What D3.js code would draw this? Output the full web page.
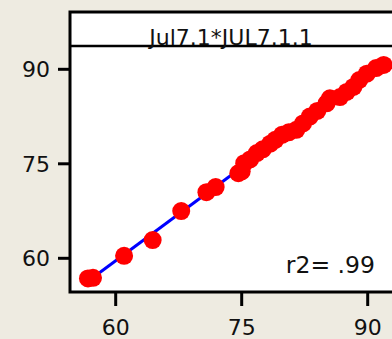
<!DOCTYPE html>
<html>
<head>
<meta charset="utf-8">
<script src="https://cdn.jsdelivr.net/npm/d3@7"></script>
<style>
  body { margin: 0; background: #eeebe1; }
  text { font-family: "DejaVu Sans", sans-serif; fill: #111; }
</style>
</head>
<body>
<div id="vis"></div>
<script>
// values (Jul7.1 vs JUL7.1.1)
var xVals = [56.7, 57.3, 61.0, 64.4, 67.8, 70.8, 71.9, 74.6, 75.0, 75.3, 76.0, 76.8, 77.5,
             78.4, 79.0, 79.8, 80.6, 81.5, 82.3, 83.1, 84.0, 85.1, 85.5, 86.7, 87.5,
             88.3, 89.0, 89.9, 91.0, 91.9];
var yVals = [56.8, 56.9, 60.4, 62.9, 67.5, 70.5, 71.3, 73.5, 73.8, 75.1, 75.7, 76.7, 77.3,
             78.2, 78.8, 79.6, 80.0, 80.4, 81.4, 82.5, 83.4, 84.6, 85.4, 85.6, 86.4,
             87.2, 88.3, 89.3, 90.2, 90.7];
var xTicks = [60, 75, 90];
var yTicks = [60, 75, 90];
var title = "Jul7.1*JUL7.1.1";
var r2Label = "r2= .99";

var width = 392, height = 339;
var box = { left: 70, top: 12, right: 396, bottom: 292, header: 46 };

var svg = d3.select("#vis").append("svg")
    .attr("width", width)
    .attr("height", height);

var x = d3.scaleLinear().domain([60, 90]).range([115.7, 367.7]);
var y = d3.scaleLinear().domain([60, 90]).range([258.3, 69.3]);

// plot panel
svg.append("rect")
    .attr("x", box.left).attr("y", box.top)
    .attr("width", box.right - box.left).attr("height", box.bottom - box.top)
    .attr("fill", "#fff");

// least squares fit
var mx = d3.mean(xVals), my = d3.mean(yVals);
var sxy = d3.sum(xVals, function (d, i) { return (d - mx) * (yVals[i] - my); });
var sxx = d3.sum(xVals, function (d) { return (d - mx) * (d - mx); });
var slope = sxy / sxx, icpt = my - slope * mx;
var ext = d3.extent(xVals);

svg.append("line")
    .attr("x1", x(ext[0])).attr("y1", y(icpt + slope * ext[0]))
    .attr("x2", x(ext[1])).attr("y2", y(icpt + slope * ext[1]))
    .attr("stroke", "#0000ff")
    .attr("stroke-width", 3);

svg.selectAll(".pt")
    .data(xVals)
    .enter().append("circle")
    .attr("class", "pt")
    .attr("cx", function (d) { return x(d); })
    .attr("cy", function (d, i) { return y(yVals[i]); })
    .attr("r", 9)
    .attr("fill", "#ff0000");

// frame + header strip
svg.append("rect")
    .attr("x", box.left).attr("y", box.top)
    .attr("width", box.right - box.left).attr("height", box.header - box.top)
    .attr("fill", "#fff");
svg.append("path")
    .attr("d", "M" + box.right + "," + box.top + "H" + box.left + "V" + box.bottom + "H" + box.right)
    .attr("fill", "none").attr("stroke", "#000").attr("stroke-width", 3);
svg.append("line")
    .attr("x1", box.left).attr("x2", box.right)
    .attr("y1", box.header).attr("y2", box.header)
    .attr("stroke", "#000").attr("stroke-width", 2.5);

svg.append("text")
    .attr("x", 231).attr("y", 45)
    .attr("text-anchor", "middle")
    .style("font-size", "22px")
    .text(title);

// axes
var yAxis = svg.append("g");
yAxis.selectAll("line").data(yTicks).enter().append("line")
    .attr("x1", 58).attr("x2", box.left)
    .attr("y1", function (d) { return y(d); }).attr("y2", function (d) { return y(d); })
    .attr("stroke", "#000").attr("stroke-width", 3);
yAxis.selectAll("text").data(yTicks).enter().append("text")
    .attr("x", 50)
    .attr("y", function (d) { return y(d); })
    .attr("dy", "0.36em")
    .attr("text-anchor", "end")
    .style("font-size", "22px")
    .text(function (d) { return d; });

var xAxis = svg.append("g");
xAxis.selectAll("line").data(xTicks).enter().append("line")
    .attr("x1", function (d) { return x(d); }).attr("x2", function (d) { return x(d); })
    .attr("y1", box.bottom).attr("y2", 306)
    .attr("stroke", "#000").attr("stroke-width", 3);
xAxis.selectAll("text").data(xTicks).enter().append("text")
    .attr("x", function (d) { return x(d); })
    .attr("y", 335)
    .attr("text-anchor", "middle")
    .style("font-size", "22px")
    .text(function (d) { return d; });

svg.append("text")
    .attr("x", 375).attr("y", 273)
    .attr("text-anchor", "end")
    .style("font-size", "23.5px")
    .text(r2Label);
</script>
</body>
</html>
